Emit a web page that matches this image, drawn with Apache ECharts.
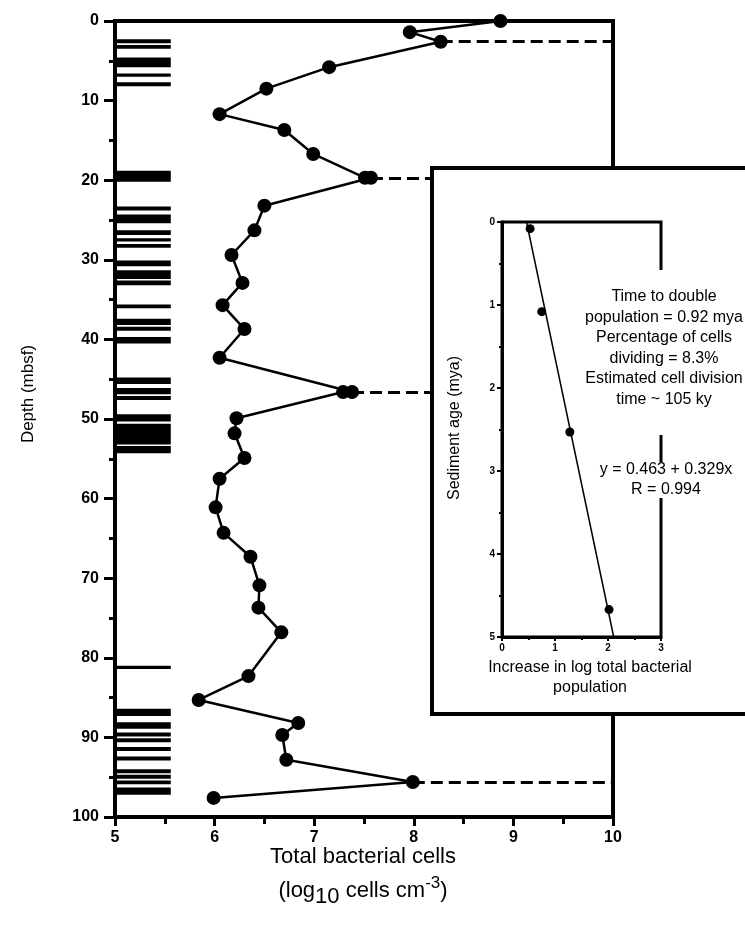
<!DOCTYPE html>
<html>
<head>
<meta charset="utf-8">
<script src="https://cdn.jsdelivr.net/npm/echarts@6/dist/echarts.min.js"></script>
<style>html,body{margin:0;padding:0;background:#fff;}#c{width:745px;height:931px;}</style>
</head>
<body>
<div id="c"></div>
<script>
// Main profile: log10 total bacterial cells vs depth (mbsf)
const cellLog = [8.87,7.96,8.27,7.15,6.52,6.05,6.70,6.99,7.51,7.57,6.50,6.40,6.17,6.28,6.08,6.30,6.05,7.38,7.29,6.22,6.20,6.30,6.05,6.01,6.09,6.36,6.45,6.44,6.67,6.34,5.84,6.84,6.68,6.72,7.99,5.99];
const cellDepth = [0,1.4,2.6,5.8,8.5,11.7,13.7,16.7,19.7,19.7,23.2,26.3,29.4,32.9,35.7,38.7,42.3,46.6,46.6,49.9,51.8,54.9,57.5,61.1,64.3,67.3,70.9,73.7,76.8,82.3,85.3,88.2,89.7,92.8,95.6,97.6];
// Dashed marker lines (depth, starting log value)
const dashDepth = [2.6, 19.7, 46.6, 95.6];
const dashFrom = [8.27, 7.57, 7.38, 7.99];
// Lithology bands (top / bottom depth)
const lithTop = [2.3,3.0,4.6,6.6,7.7,18.8,23.3,24.3,26.3,27.3,28.0,30.1,31.3,32.6,35.6,37.4,38.4,39.7,44.8,46.1,47.1,49.4,50.6,53.4,81.0,86.4,88.1,89.4,90.1,91.2,92.4,94.0,94.7,95.4,96.3];
const lithBottom = [2.8,3.5,5.8,7.0,8.2,20.2,23.8,25.4,26.9,27.7,28.5,30.8,32.4,33.2,36.1,38.2,38.9,40.5,45.6,46.9,47.6,50.3,53.2,54.3,81.4,87.3,88.9,89.9,90.6,91.7,92.9,94.5,95.2,95.9,97.2];
// Inset: increase in log population vs sediment age (mya)
const incLog = [0.53, 0.75, 1.28, 2.02];
const sedAge = [0.08, 1.08, 2.53, 4.67];
const fitX = [0.463, 2.108];
const fitY = [0, 5];
// Tick values
const mainXTicks = [5,6,7,8,9,10];
const mainYTicks = [0,10,20,30,40,50,60,70,80,90,100];

const FONT = '"Liberation Sans", Arial, sans-serif';
const lithRight = 5.56;

const mainData = cellLog.map((v,i)=>[v, cellDepth[i]]);
const lithData = lithTop.map((t,i)=>[t, lithBottom[i]]);
const insetData = incLog.map((v,i)=>[v, sedAge[i]]);
const fitData = fitX.map((v,i)=>[v, fitY[i]]);
const dashLines = dashDepth.map((d,i)=>[{coord:[dashFrom[i], d]},{coord:[10, d]}]);

const chart = echarts.init(document.getElementById('c'), null, {renderer:'canvas'});
chart.setOption({
  animation:false,
  backgroundColor:'#fff',
  grid:[
    {left:115, top:21, width:498, height:796, show:true, borderColor:'#000', borderWidth:4, z:1},
    {left:502, top:222, width:159, height:415, show:true, borderColor:'#000', borderWidth:3, z:60}
  ],
  xAxis:[
    {gridIndex:0, type:'value', min:mainXTicks[0], max:mainXTicks[mainXTicks.length-1], interval:1,
     axisLine:{show:true, onZero:false, lineStyle:{color:'#000', width:4}},
     axisTick:{show:true, length:9, lineStyle:{color:'#000', width:3}},
     minorTick:{show:true, splitNumber:2, length:7, lineStyle:{color:'#000', width:3}},
     splitLine:{show:false},
     axisLabel:{color:'#000', fontFamily:FONT, fontWeight:'bold', fontSize:16, margin:13}},
    {gridIndex:1, type:'value', min:0, max:3, interval:1, z:61,
     axisLine:{show:true, onZero:false, lineStyle:{color:'#000', width:3}},
     axisTick:{show:true, length:4, lineStyle:{color:'#000', width:2}},
     minorTick:{show:true, splitNumber:2, length:3, lineStyle:{color:'#000', width:2}},
     splitLine:{show:false},
     axisLabel:{color:'#000', fontFamily:FONT, fontWeight:'bold', fontSize:10, margin:6}}
  ],
  yAxis:[
    {gridIndex:0, type:'value', inverse:true, min:mainYTicks[0], max:mainYTicks[mainYTicks.length-1], interval:10,
     axisLine:{show:true, onZero:false, lineStyle:{color:'#000', width:4}},
     axisTick:{show:true, length:11, lineStyle:{color:'#000', width:3}},
     minorTick:{show:true, splitNumber:2, length:6, lineStyle:{color:'#000', width:3}},
     splitLine:{show:false},
     axisLabel:{color:'#000', fontFamily:FONT, fontWeight:'bold', fontSize:16, margin:16}},
    {gridIndex:1, type:'value', inverse:true, min:0, max:5, interval:1, z:61,
     axisLine:{show:true, onZero:false, lineStyle:{color:'#000', width:3}},
     axisTick:{show:true, length:5, lineStyle:{color:'#000', width:2}},
     minorTick:{show:true, splitNumber:2, length:3, lineStyle:{color:'#000', width:2}},
     splitLine:{show:false},
     axisLabel:{color:'#000', fontFamily:FONT, fontWeight:'bold', fontSize:10, margin:7}}
  ],
  series:[
    {type:'custom', xAxisIndex:0, yAxisIndex:0, z:2, data:lithData,
     renderItem:function(params, api){
       const p1 = api.coord([5, api.value(0)]);
       const p2 = api.coord([lithRight, api.value(1)]);
       return {type:'rect', shape:{x:p1[0], y:p1[1], width:p2[0]-p1[0], height:Math.max(p2[1]-p1[1],2)}, style:{fill:'#000'}};
     }},
    {type:'line', xAxisIndex:0, yAxisIndex:0, z:3, data:[], symbol:'none',
     markLine:{silent:true, symbol:['none','none'], label:{show:false},
       lineStyle:{color:'#000', width:3, type:[12,6]}, data:dashLines}},
    {type:'line', xAxisIndex:0, yAxisIndex:0, z:4, data:mainData, symbol:'circle', symbolSize:14,
     itemStyle:{color:'#000'}, lineStyle:{color:'#000', width:2.5}, clip:false},
    {type:'line', xAxisIndex:1, yAxisIndex:1, z:62, data:fitData, symbol:'none',
     lineStyle:{color:'#000', width:1.5}},
    {type:'scatter', xAxisIndex:1, yAxisIndex:1, z:63, data:insetData, symbol:'circle', symbolSize:9,
     itemStyle:{color:'#000', opacity:1}}
  ],
  graphic:[
    {type:'rect', z:50, shape:{x:432, y:168, width:400, height:546}, style:{fill:'#fff', stroke:'#000', lineWidth:4}},
    {type:'rect', z:70, shape:{x:575, y:270, width:200, height:165}, style:{fill:'#fff'}},
    {type:'rect', z:70, shape:{x:598, y:462, width:140, height:36}, style:{fill:'#fff'}},
    {type:'text', z:71, style:{x:664, y:348, text:'Time to double\npopulation = 0.92 mya\nPercentage of cells\ndividing = 8.3%\nEstimated cell division\ntime ~ 105 ky',
      font:'16px '+FONT, fill:'#000', textAlign:'center', textVerticalAlign:'middle', lineHeight:20.5}},
    {type:'text', z:71, style:{x:666, y:480, text:'y = 0.463 + 0.329x\nR = 0.994',
      font:'16px '+FONT, fill:'#000', textAlign:'center', textVerticalAlign:'middle', lineHeight:20}},
    {type:'text', z:71, style:{x:590, y:678, text:'Increase in log total bacterial\npopulation',
      font:'16px '+FONT, fill:'#000', textAlign:'center', textVerticalAlign:'middle', lineHeight:20}},
    {type:'text', z:71, x:455, y:428, rotation:Math.PI/2, style:{x:0, y:0, text:'Sediment age (mya)',
      font:'16px '+FONT, fill:'#000', textAlign:'center', textVerticalAlign:'middle'}},
    {type:'text', z:10, x:28, y:394, rotation:Math.PI/2, style:{x:0, y:0, text:'Depth (mbsf)',
      font:'17px '+FONT, fill:'#000', textAlign:'center', textVerticalAlign:'middle'}},
    {type:'text', z:10, style:{x:363, y:857, text:'Total bacterial cells',
      font:'22px '+FONT, fill:'#000', textAlign:'center', textVerticalAlign:'middle'}},
    {type:'text', z:10, style:{x:363, y:891, text:'{a|(log}{sub|10}{a| cells cm}{sup|-3}{a|)}',
      textAlign:'center', textVerticalAlign:'middle',
      rich:{a:{fontFamily:FONT, fontSize:22, fill:'#000'},
            sub:{fontFamily:FONT, fontSize:22, fill:'#000', padding:[12,0,0,0]},
            sup:{fontFamily:FONT, fontSize:17, fill:'#000', padding:[0,0,16,0]}}}}
  ]
});
</script>
</body>
</html>
